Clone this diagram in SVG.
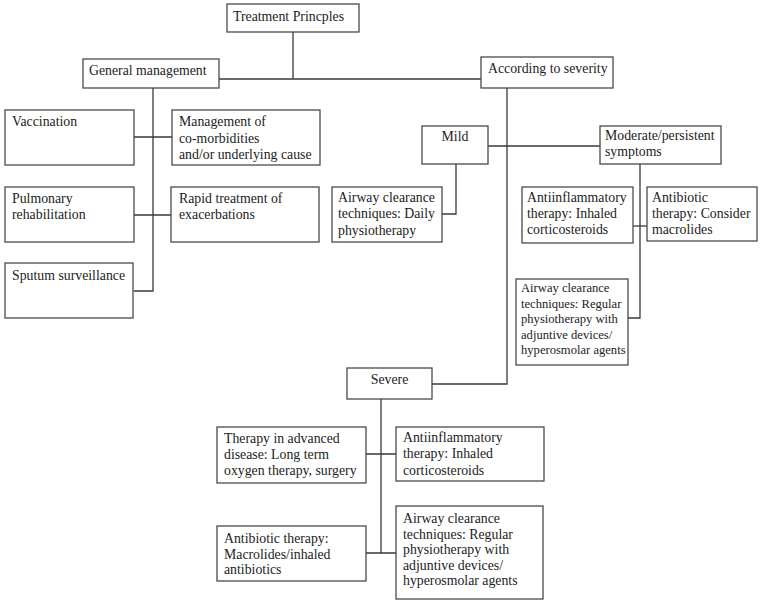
<svg xmlns="http://www.w3.org/2000/svg" width="762" height="604" viewBox="0 0 762 604">
<style>
.b{fill:#fff;stroke:#4a4a4a;stroke-width:1.3}
.t{font-family:"Liberation Serif","Times New Roman",serif;font-size:13.8px;fill:#222}
.s{font-size:12.6px}
.m{text-anchor:middle}
.c{fill:none;stroke:#3a3a3a;stroke-width:1.3}
</style>
<rect width="762" height="604" fill="#fff"/>
<g id="connectors">
<path class="c" d="M293,32V79M219,79H481"/>
<path class="c" d="M153,88V291H134"/>
<path class="c" d="M134,137H172M134,215H171"/>
<path class="c" d="M507,88V384H432"/>
<path class="c" d="M488,146H600"/>
<path class="c" d="M456,164V214H442"/>
<path class="c" d="M640,164V318H628"/>
<path class="c" d="M633,226H647"/>
<path class="c" d="M381,399V553"/>
<path class="c" d="M366,454H396M366,553H396"/>
</g>
<g id="treatment"><rect class="b" x="227" y="4" width="132" height="28"/><text class="t" x="233" y="21">Treatment Princples</text></g>
<g id="general"><rect class="b" x="83" y="59" width="136" height="29"/><text class="t" x="89" y="75">General management</text></g>
<g id="severity"><rect class="b" x="481" y="57" width="132" height="31"/><text class="t" x="488" y="73">According to severity</text></g>
<g id="vaccination"><rect class="b" x="5" y="110" width="129" height="55"/><text class="t" x="12" y="126">Vaccination</text></g>
<g id="comorbid"><rect class="b" x="172" y="110" width="148" height="55"/><text class="t" x="179" y="126">Management of</text><text class="t" x="179" y="142.5">co-morbidities</text><text class="t" x="179" y="159">and/or underlying cause</text></g>
<g id="pulmonary"><rect class="b" x="5" y="187" width="129" height="55"/><text class="t" x="12" y="203">Pulmonary</text><text class="t" x="12" y="219">rehabilitation</text></g>
<g id="rapid"><rect class="b" x="171" y="187" width="148" height="55"/><text class="t" x="179" y="203">Rapid treatment of</text><text class="t" x="179" y="219">exacerbations</text></g>
<g id="sputum"><rect class="b" x="5" y="263" width="128" height="55"/><text class="t" x="12" y="280">Sputum surveillance</text></g>
<g id="mild"><rect class="b" x="422" y="126" width="66" height="38"/><text class="t m" x="455" y="141">Mild</text></g>
<g id="moderate"><rect class="b" x="600" y="126" width="121" height="38"/><text class="t" x="605" y="140">Moderate/persistent</text><text class="t" x="605" y="156">symptoms</text></g>
<g id="mild-airway"><rect class="b" x="332" y="187" width="110" height="55"/><text class="t" x="338" y="202">Airway clearance</text><text class="t" x="338" y="218">techniques: Daily</text><text class="t" x="338" y="235">physiotherapy</text></g>
<g id="mod-antiinflam"><rect class="b" x="522" y="187" width="111" height="56"/><text class="t" x="527" y="202">Antiinflammatory</text><text class="t" x="527" y="218">therapy: Inhaled</text><text class="t" x="527" y="234">corticosteroids</text></g>
<g id="mod-antibiotic"><rect class="b" x="647" y="187" width="110" height="54"/><text class="t" x="652" y="202">Antibiotic</text><text class="t" x="652" y="218">therapy: Consider</text><text class="t" x="652" y="234">macrolides</text></g>
<g id="mod-airway"><rect class="b" x="516" y="279" width="112" height="86"/><text class="t s" x="521" y="292">Airway clearance</text><text class="t s" x="521" y="307.5">techniques: Regular</text><text class="t s" x="521" y="323">physiotherapy with</text><text class="t s" x="521" y="338.5">adjuntive devices/</text><text class="t s" x="521" y="354">hyperosmolar agents</text></g>
<g id="severe"><rect class="b" x="347" y="368" width="85" height="31"/><text class="t m" x="389.5" y="384">Severe</text></g>
<g id="sev-therapy"><rect class="b" x="217" y="427" width="149" height="56"/><text class="t" x="224" y="443">Therapy in advanced</text><text class="t" x="224" y="459">disease: Long term</text><text class="t" x="224" y="475">oxygen therapy, surgery</text></g>
<g id="sev-antiinflam"><rect class="b" x="396" y="427" width="148" height="54"/><text class="t" x="403" y="442">Antiinflammatory</text><text class="t" x="403" y="458">therapy: Inhaled</text><text class="t" x="403" y="474.5">corticosteroids</text></g>
<g id="sev-antibiotic"><rect class="b" x="217" y="526" width="149" height="55"/><text class="t" x="224" y="543">Antibiotic therapy:</text><text class="t" x="224" y="558.5">Macrolides/inhaled</text><text class="t" x="224" y="574">antibiotics</text></g>
<g id="sev-airway"><rect class="b" x="396" y="506" width="147" height="93"/><text class="t" x="403" y="523">Airway clearance</text><text class="t" x="403" y="538.5">techniques: Regular</text><text class="t" x="403" y="554">physiotherapy with</text><text class="t" x="403" y="569.5">adjuntive devices/</text><text class="t" x="403" y="585">hyperosmolar agents</text></g>
</svg>
